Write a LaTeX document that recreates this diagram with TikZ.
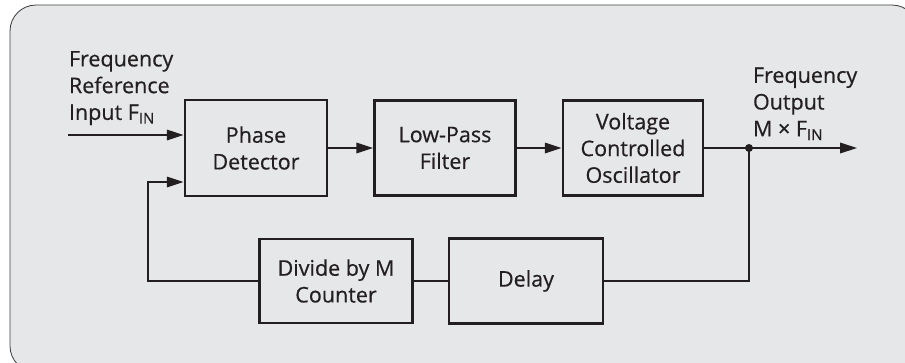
\documentclass[tikz,border=0pt]{standalone}
\usepackage{fontspec}
\setmainfont{Open Sans}[FakeBold=0.5]
\usetikzlibrary{arrows.meta}
\definecolor{panelgray}{HTML}{E6E7E8}
\definecolor{inkdark}{HTML}{231F20}
\begin{document}
\begin{tikzpicture}[x=0.025cm,y=-0.025cm,line width=1.4pt,color=inkdark,
 font=\fontsize{15.3}{19}\selectfont,
 blk/.style={draw,line width=2pt,align=center,inner sep=0pt},
 arr/.style={-{Triangle[length=0.42cm,width=0.26cm]}}]
 \useasboundingbox(0,0) rectangle (905,362);
 \draw[fill=panelgray,draw=black!75,line width=0.6pt,rounded corners=0.65cm](10,5) rectangle (918,372);
 % blocks
 \node[blk,minimum width=3.55cm,minimum height=2.4cm] (pd) at (256,148) {Phase\\Detector};
 \node[blk,minimum width=3.52cm,minimum height=2.38cm] (lpf) at (445,148) {Low-Pass\\Filter};
 \node[blk,minimum width=3.5cm,minimum height=2.38cm] (vco) at (633,148) {Voltage\\Controlled\\Oscillator};
 \node[blk,minimum width=3.82cm,minimum height=2.1cm] (div) at (336,281) {Divide by M\\Counter};
 \node[blk,minimum width=3.85cm,minimum height=2.12cm] (dly) at (526,281) {Delay};
 % labels
 \node[anchor=south west,align=left,inner sep=0pt] (fin) at (68,126) {Frequency\\Reference\\Input F\textsubscript{IN}};
 \node[anchor=south west,align=left,inner sep=0pt] (fout) at (752,141) {Frequency\\Output\\M × F\textsubscript{IN}};
 % connectors
 \coordinate (inp) at (68,135);
 \coordinate (tap) at (749,148);
 \coordinate (outp) at (857,148);
 \coordinate (fb) at (148,182);
 \draw[arr](inp) -- (inp -| pd.west);
 \draw[arr](pd) -- (lpf);
 \draw[arr](lpf) -- (vco);
 \draw(vco) -- (tap);
 \draw[arr](tap) -- (outp);
 \fill(tap) circle (0.1cm);
 \draw(tap) |- (dly.east);
 \draw(dly) -- (div);
 \draw[arr](div.west) -| (fb) -- (fb -| pd.west);
\end{tikzpicture}
\end{document}
